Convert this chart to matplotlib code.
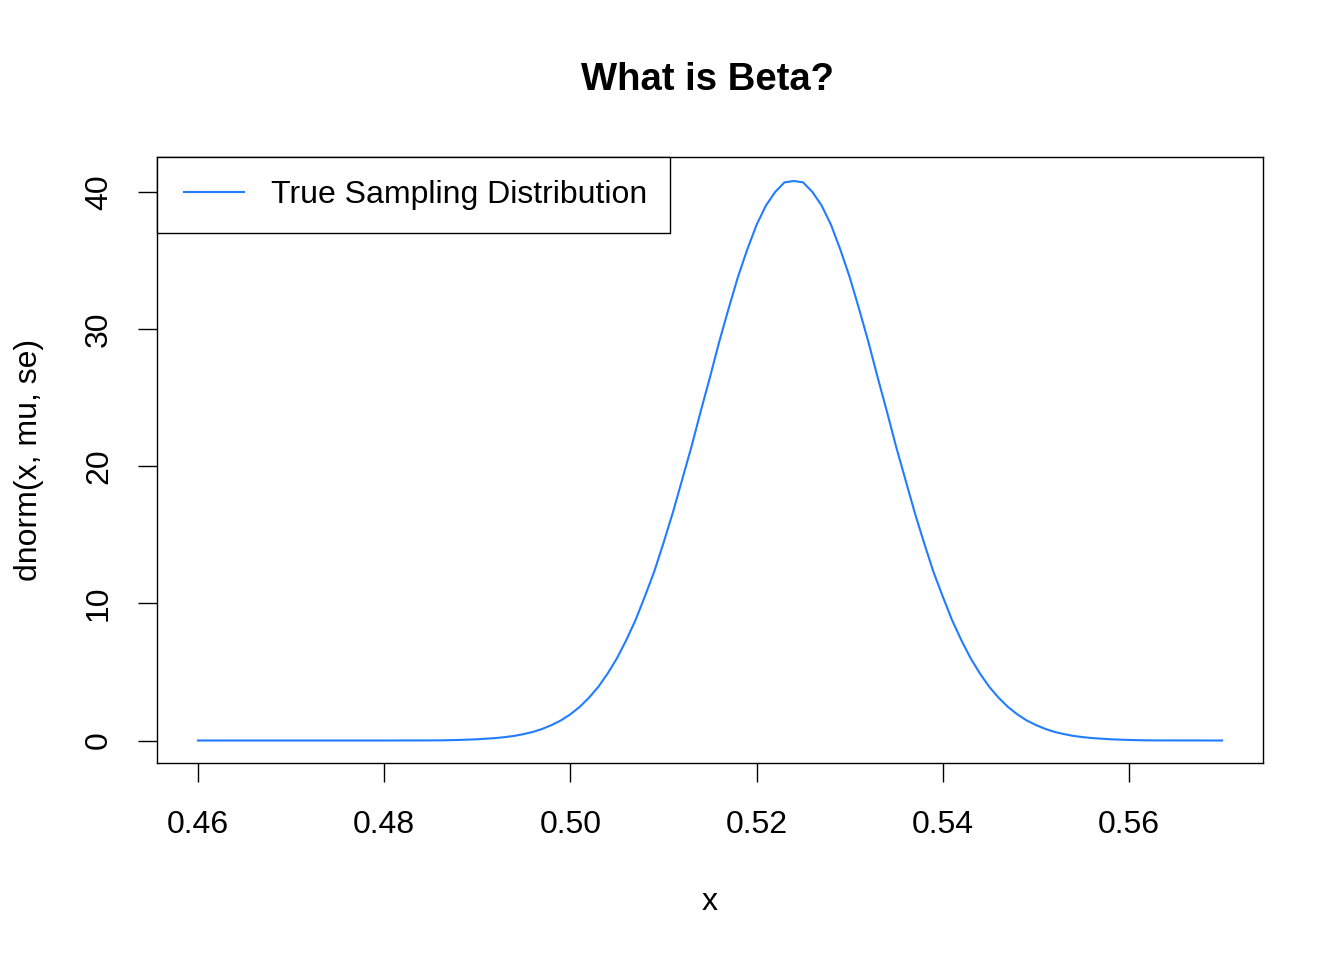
import matplotlib
matplotlib.use("Agg")
import matplotlib.pyplot as plt
from matplotlib.legend_handler import HandlerLine2D

plt.rcParams['font.family'] = ['Liberation Sans', 'DejaVu Sans']

# curve points
x_vals = [0.460, 0.470, 0.480, 0.486, 0.488, 0.490, 0.492, 0.493, 0.494, 0.495,
          0.496, 0.497, 0.498, 0.499, 0.500, 0.501, 0.502, 0.503, 0.504, 0.505,
          0.506, 0.507, 0.508, 0.509, 0.510, 0.511, 0.512, 0.513, 0.514, 0.515,
          0.516, 0.517, 0.518, 0.519, 0.520, 0.521, 0.522, 0.523, 0.524, 0.525,
          0.526, 0.527, 0.528, 0.529, 0.530, 0.531, 0.532, 0.533, 0.534, 0.535,
          0.536, 0.537, 0.538, 0.539, 0.540, 0.541, 0.542, 0.543, 0.544, 0.545,
          0.546, 0.547, 0.548, 0.549, 0.550, 0.551, 0.552, 0.553, 0.554, 0.555,
          0.556, 0.558, 0.560, 0.562, 0.570]
y_vals = [0.0, 0.0, 0.0, 0.01, 0.04, 0.09, 0.18, 0.25, 0.34, 0.47,
          0.63, 0.85, 1.13, 1.47, 1.91, 2.45, 3.12, 3.91, 4.88, 5.99,
          7.31, 8.78, 10.5, 12.3, 14.4, 16.6, 19.0, 21.4, 24.0, 26.5,
          29.1, 31.5, 33.8, 35.8, 37.6, 39.0, 40.0, 40.7, 40.8, 40.7,
          40.0, 39.0, 37.6, 35.8, 33.8, 31.5, 29.1, 26.5, 24.0, 21.4,
          19.0, 16.6, 14.4, 12.3, 10.5, 8.78, 7.31, 5.99, 4.88, 3.91,
          3.12, 2.45, 1.91, 1.47, 1.13, 0.85, 0.63, 0.47, 0.34, 0.25,
          0.18, 0.09, 0.04, 0.01, 0.0]
x_ticks = [0.46, 0.48, 0.50, 0.52, 0.54, 0.56]
y_ticks = [0, 10, 20, 30, 40]

LINE_COLOR = '#207DFF'
FS = 23

fig = plt.figure(figsize=(13.44, 9.6), dpi=100)
ax = fig.add_axes([157/1344, 1 - 763/960, (1263 - 157)/1344, (763 - 157)/960])

ax.plot(x_vals, y_vals, color=LINE_COLOR, lw=1.5, label='True Sampling Distribution')

ax.set_xlim(0.4556, 0.5744)
ax.set_ylim(-1.64, 42.55)
ax.set_xticks(x_ticks)
ax.set_xticklabels([f'{t:.2f}' for t in x_ticks])
ax.set_yticks(y_ticks)
ax.set_yticklabels([str(t) for t in y_ticks], rotation=90, va='center')
ax.tick_params(axis='both', direction='out', length=14, width=1.0, labelsize=FS)
ax.tick_params(axis='x', pad=20)
ax.tick_params(axis='y', pad=17)
for s in ax.spines.values():
    s.set_linewidth(1.0)

ax.set_xlabel('x', fontsize=FS, labelpad=34)
ax.set_ylabel('dnorm(x, mu, se)', fontsize=FS, labelpad=29)
fig.text(0.5266, 1 - 80/960, 'What is Beta?', fontsize=27.5, fontweight='bold',
         ha='center', va='center')

leg = ax.legend(loc='upper left', borderaxespad=0, fancybox=False, framealpha=1,
                edgecolor='black', fontsize=FS, borderpad=0.72, handlelength=2.0,
                handletextpad=0.85,
                handler_map={plt.Line2D: HandlerLine2D(xpad=0.13)})
leg.get_frame().set_linewidth(1.0)

fig.savefig('out.png', dpi=100)
